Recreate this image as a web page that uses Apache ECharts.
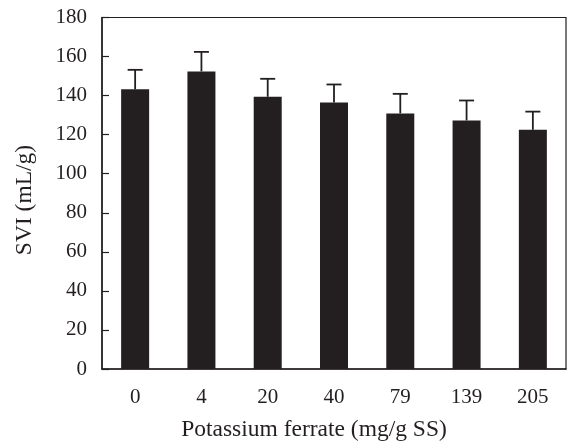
<!DOCTYPE html>
<html><head><meta charset="utf-8">
<script src="https://cdn.jsdelivr.net/npm/echarts@6/dist/echarts.min.js"></script>
<style>html,body{margin:0;padding:0;background:#fff}#c{width:567px;height:443px}</style>
</head><body><div id="c"></div>
<script>
var categories = ['0', '4', '20', '40', '79', '139', '205'];
var svi = [143.2, 152.4, 139.4, 136.5, 130.9, 127.3, 122.5];
var sviErr = [10, 10, 9.2, 9.2, 10, 10.2, 9.3];
var yTicks = [0, 20, 40, 60, 80, 100, 120, 140, 160, 180];

var FONT = '"Liberation Serif", "Times New Roman", serif';
var INK = '#231f20';
var chart = echarts.init(document.getElementById('c'), null, {renderer: 'canvas'});
chart.setOption({
  animation: false,
  backgroundColor: '#fff',
  grid: {left: 102, right: 1, top: 17.5, bottom: 74, show: true, borderColor: INK, borderWidth: 1.2, backgroundColor: 'transparent'},
  xAxis: {
    type: 'category', data: categories,
    axisLine: {lineStyle: {color: INK, width: 1.5}},
    axisTick: {inside: true, length: 7, lineStyle: {color: INK, width: 1.2}, interval: 0},
    axisLabel: {color: INK, fontFamily: FONT, fontSize: 21, margin: 18},
    splitLine: {show: false}
  },
  yAxis: {
    type: 'value', min: yTicks[0], max: yTicks[yTicks.length - 1], interval: 20,
    axisLine: {show: true, lineStyle: {color: INK, width: 1.5}},
    axisTick: {show: true, inside: true, length: 7, lineStyle: {color: INK, width: 1.2}},
    axisLabel: {color: INK, fontFamily: FONT, fontSize: 21, margin: 15},
    splitLine: {show: false}
  },
  graphic: [
    {type: 'text', style: {text: 'SVI (mL/g)', font: '23.5px ' + FONT, fill: INK, textAlign: 'center', textVerticalAlign: 'middle'}, x: 25, y: 200, rotation: Math.PI / 2},
    {type: 'text', style: {text: 'Potassium ferrate (mg/g SS)', font: '23.5px ' + FONT, fill: INK, textAlign: 'center', textVerticalAlign: 'middle'}, x: 314, y: 430}
  ],
  series: [
    {
      type: 'bar', data: svi, barWidth: 28, z: 2,
      itemStyle: {color: INK}
    },
    {
      type: 'custom', z: 1,
      data: svi.map(function (v, i) { return [i, v, v + sviErr[i]]; }),
      renderItem: function (params, api) {
        var base = api.coord([api.value(0), api.value(1)]);
        var top = api.coord([api.value(0), api.value(2)]);
        var hw = 7.5;
        var st = {stroke: INK, lineWidth: 1.8};
        return {type: 'group', children: [
          {type: 'line', shape: {x1: base[0], y1: base[1], x2: top[0], y2: top[1]}, style: st},
          {type: 'line', shape: {x1: top[0] - hw, y1: top[1], x2: top[0] + hw, y2: top[1]}, style: st}
        ]};
      }
    }
  ]
});
</script></body></html>
